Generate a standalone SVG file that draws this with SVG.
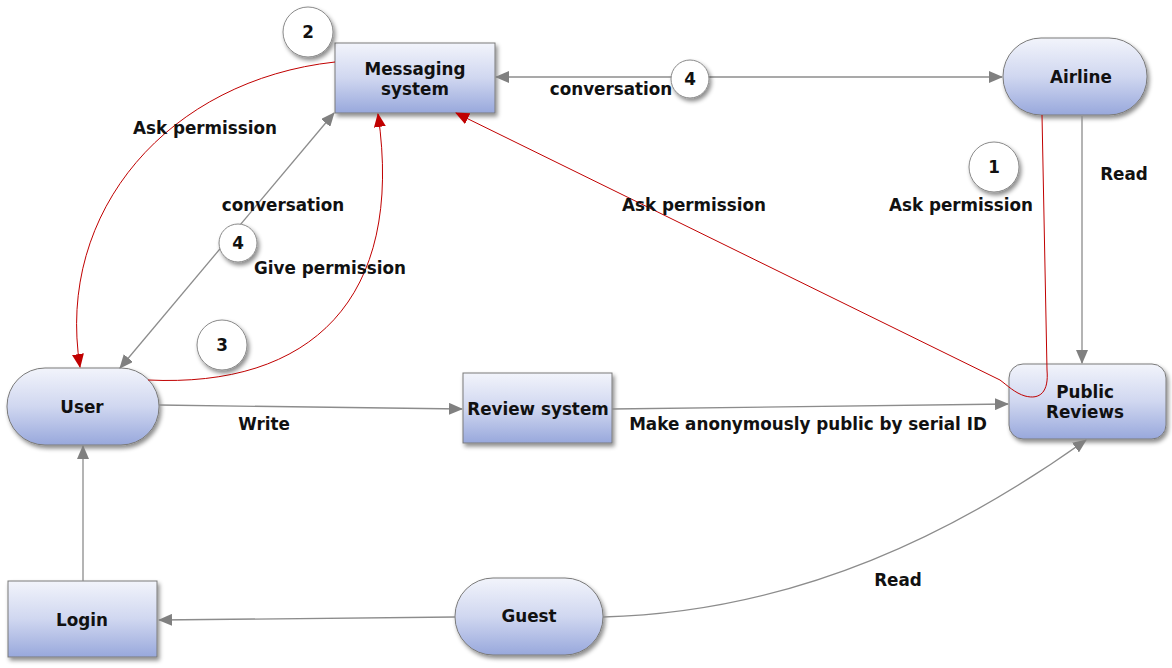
<svg xmlns="http://www.w3.org/2000/svg" width="1172" height="668" viewBox="0 0 1172 668">
<defs>
<linearGradient id="g" x1="0" y1="0" x2="0" y2="1">
<stop offset="0" stop-color="#f2f4fb"/>
<stop offset="0.5" stop-color="#d0d7f0"/>
<stop offset="1" stop-color="#98a8dc"/>
</linearGradient>
<filter id="sh" x="-20%" y="-20%" width="140%" height="150%">
<feDropShadow dx="2" dy="3" stdDeviation="2" flood-color="#000" flood-opacity="0.45"/>
</filter>
<marker id="ag" markerWidth="14" markerHeight="12" refX="13" refY="6" orient="auto-start-reverse" markerUnits="userSpaceOnUse">
<path d="M0,0 L14,6 L0,12 z" fill="#808080"/>
</marker>
<marker id="ar" markerWidth="14" markerHeight="12" refX="13" refY="6" orient="auto-start-reverse" markerUnits="userSpaceOnUse">
<path d="M0,0 L14,6 L0,12 z" fill="#c00000"/>
</marker>
<style>
.node{fill:url(#g);stroke:#7a7a7a;stroke-width:1;filter:url(#sh)}
.num{fill:#fff;stroke:#8a8a8a;stroke-width:1;filter:url(#sh)}
text{font-family:"DejaVu Sans",Verdana,sans-serif;font-weight:bold;font-size:16.8px;fill:#111;text-anchor:middle}
.g{fill:none;stroke:#8c8c8c;stroke-width:1.3}
.r{fill:none;stroke:#c00000;stroke-width:1}
</style>
</defs>
<rect width="1172" height="668" fill="#fff"/>

<g id="n-messaging">
<rect class="node" x="335" y="43" width="160" height="70"/>
<text x="415" y="75">Messaging</text>
<text x="415" y="95">system</text>
</g>
<g id="n-airline">
<rect class="node" x="1003" y="38" width="144" height="77" rx="38" ry="38"/>
<text x="1081" y="83">Airline</text>
</g>
<g id="n-public">
<rect class="node" x="1009" y="364" width="157" height="75" rx="14" ry="14"/>
<text x="1085" y="398">Public</text>
<text x="1085" y="418">Reviews</text>
</g>
<g id="n-user">
<rect class="node" x="7" y="368" width="152" height="77" rx="38" ry="38"/>
<text x="82" y="413">User</text>
</g>
<g id="n-review">
<rect class="node" x="463" y="373" width="149" height="70"/>
<text x="538" y="415">Review system</text>
</g>
<g id="n-login">
<rect class="node" x="8" y="581" width="149" height="76"/>
<text x="82" y="626">Login</text>
</g>
<g id="n-guest">
<rect class="node" x="455" y="578" width="148" height="77" rx="38" ry="38"/>
<text x="529" y="622">Guest</text>
</g>

<g id="connectors">
<path class="g" d="M83,581 L83,446" marker-end="url(#ag)"/>
<path class="g" d="M455,617 L159,620" marker-end="url(#ag)"/>
<path class="g" d="M159,405 L462,409" marker-end="url(#ag)"/>
<path class="g" d="M612,409 L1008,404" marker-end="url(#ag)"/>
<path class="g" d="M1082,116 L1082,363" marker-end="url(#ag)"/>
<path class="g" d="M496,77 L1002,77" marker-start="url(#ag)" marker-end="url(#ag)"/>
<path class="g" d="M603,617 C800,612 960,530 1086,440" marker-end="url(#ag)"/>
<path class="g" d="M120,368 L334,113" marker-start="url(#ag)" marker-end="url(#ag)"/>
<path class="r" d="M335,62 C170,80 55,210 80,367" marker-end="url(#ar)"/>
<path class="r" d="M148,380 C310,388 405,300 378,114" marker-end="url(#ar)"/>
<path class="r" d="M1042,115 L1047,370 C1049,392 1040,400 1025,396 C1015,393 1008,386 1000,380 L456,113" marker-end="url(#ar)"/>
<text x="205" y="134">Ask permission</text>
<text x="283" y="211">conversation</text>
<text x="330" y="274">Give permission</text>
<text x="264" y="430">Write</text>
<text x="808" y="430">Make anonymously public by serial ID</text>
<text x="694" y="211">Ask permission</text>
<text x="961" y="211">Ask permission</text>
<text x="1124" y="180">Read</text>
<text x="898" y="586">Read</text>
<text x="611" y="95">conversation</text>
</g>

<g id="c2"><circle class="num" cx="308" cy="32" r="25"/><text x="308" y="38">2</text></g>
<g id="c4a"><circle class="num" cx="690" cy="79" r="19"/><text x="690" y="85">4</text></g>
<g id="c1"><circle class="num" cx="994" cy="167" r="25"/><text x="994" y="173">1</text></g>
<g id="c4b"><circle class="num" cx="238" cy="243" r="19"/><text x="238" y="249">4</text></g>
<g id="c3"><circle class="num" cx="222" cy="345" r="25"/><text x="222" y="351">3</text></g>
</svg>
